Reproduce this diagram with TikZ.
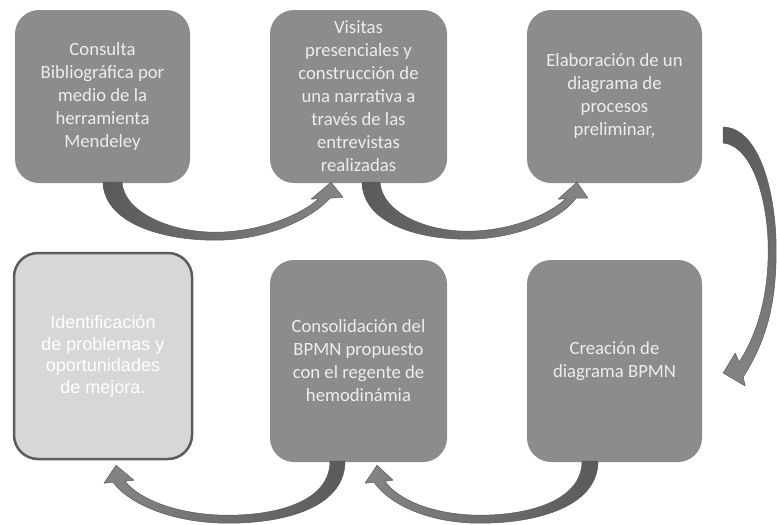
\documentclass[tikz,border=0pt]{standalone}
\usepackage{fontspec}
\setmainfont{Carlito}
\newfontfamily\arialf{Liberation Sans}
\definecolor{boxgray}{HTML}{8C8C8C}
\definecolor{boxtext}{HTML}{EDEDED}
\definecolor{lightbox}{HTML}{D7D7D7}
\definecolor{borderg}{HTML}{5C5C5C}
\definecolor{arrdark}{HTML}{5A5A5A}
\definecolor{arrlight}{HTML}{858585}
\begin{document}
\begin{tikzpicture}[x=1pt,y=-1pt,
  stepbox/.style={rectangle, rounded corners=24pt, fill=boxgray, inner sep=0pt,
    align=center, text=boxtext, font=\fontsize{18.7}{23}\selectfont},
  lastbox/.style={rectangle, rounded corners=24pt, fill=lightbox, draw=borderg,
    line width=2.5pt, inner sep=0pt, align=center, text=white,
    font=\arialf\fontsize{18}{21.5}\selectfont},
  arrline/.style={draw=arrdark, line width=0.5pt, line join=round}]
\fill[white] (0,0) rectangle (777,525);
\useasboundingbox (0,0) rectangle (777,525);

\node[stepbox, minimum width=175pt, minimum height=173pt] (b1) at (102.5,96.5)
  {Consulta\\Bibliográfica por\\medio de la\\herramienta\\Mendeley};
\node[stepbox, minimum width=177pt, minimum height=173pt] (b2) at (358.5,96.5)
  {Visitas\\presenciales y\\construcción de\\una narrativa a\\través de las\\entrevistas\\realizadas};
\node[stepbox, minimum width=175pt, minimum height=173pt] (b3) at (614.5,96.5)
  {Elaboración de un\\diagrama de\\procesos\\preliminar,};
\node[lastbox, minimum width=178pt, minimum height=206pt] (b4) at (103,356)
  {Identificación\\de problemas y\\oportunidades\\de mejora.};
\node[stepbox, minimum width=177pt, minimum height=202pt] (b5) at (358.5,361)
  {Consolidación del\\BPMN propuesto\\con el regente de\\hemodinámia};
\node[stepbox, minimum width=175pt, minimum height=202pt] (b6) at (614.5,361)
  {Creación de\\diagrama BPMN};

% arrow b1 -> b2
\begin{scope}[shift={(b1.south)}]
\shade[arrline, left color=arrdark, right color=arrlight]
  (0.5,-1) .. controls (1.5,39) and (57.5,57) .. (112.5,57)
  .. controls (162.5,57) and (207.5,37) .. (227.5,15)
  -- (240.5,14) -- (228.5,-1) -- (208.5,16) -- (216.5,15.5)
  .. controls (197.5,32) and (157.5,49) .. (112.5,49)
  .. controls (67.5,49) and (21.5,29) .. (19.5,-1) -- cycle;
\end{scope}
% arrow b2 -> b3
\begin{scope}[shift={(b2.south)}]
\shade[arrline, left color=arrdark, right color=arrlight]
  (3.5,-1) .. controls (4.5,39) and (56.5,56) .. (108.5,56)
  .. controls (156.5,56) and (201.5,37) .. (217.5,15)
  -- (229.5,15) -- (218.5,-1) -- (199.5,16) -- (207.5,15.5)
  .. controls (189.5,32) and (151.5,48) .. (108.5,48)
  .. controls (66.5,48) and (23.5,29) .. (21.5,-1) -- cycle;
\end{scope}
% arrow b3 -> b6
\begin{scope}[shift={(b3.east)}]
\shade[arrline, top color=arrdark, bottom color=arrlight]
  (21,30.5) .. controls (58,31.5) and (74,98.5) .. (74,153.5)
  .. controls (74,203.5) and (66,241.5) .. (41,280.5)
  -- (43,289.5) -- (21,276.5) -- (33,256.5) -- (37,265.5)
  .. controls (56,235.5) and (66,198.5) .. (66,153.5)
  .. controls (66,103.5) and (50,49.5) .. (21,46.5) -- cycle;
\end{scope}
% arrow b6 -> b5
\begin{scope}[shift={(b6.south)}]
\shade[arrline, left color=arrlight, right color=arrdark]
  (-16.5,-1) .. controls (-16.5,43) and (-74.5,61) .. (-134.5,61)
  .. controls (-184.5,61) and (-224.5,43) .. (-240.5,20)
  -- (-249.5,21) -- (-237.5,3) -- (-221.5,18) -- (-229.5,19)
  .. controls (-216.5,38) and (-179.5,53) .. (-134.5,53)
  .. controls (-84.5,53) and (-32.5,38) .. (-32.5,-1) -- cycle;
\end{scope}
% arrow b5 -> b4
\begin{scope}[shift={(b5.south)}]
\shade[arrline, left color=arrlight, right color=arrdark]
  (-13.5,-1) .. controls (-13.5,43) and (-68.5,61) .. (-130.5,61)
  .. controls (-183.5,61) and (-228.5,43) .. (-245.5,20)
  -- (-254.5,21) -- (-242.5,3) -- (-224.5,18) -- (-233.5,19)
  .. controls (-218.5,38) and (-178.5,53) .. (-130.5,53)
  .. controls (-78.5,53) and (-28.5,38) .. (-28.5,-1) -- cycle;
\end{scope}
\end{tikzpicture}
\end{document}
